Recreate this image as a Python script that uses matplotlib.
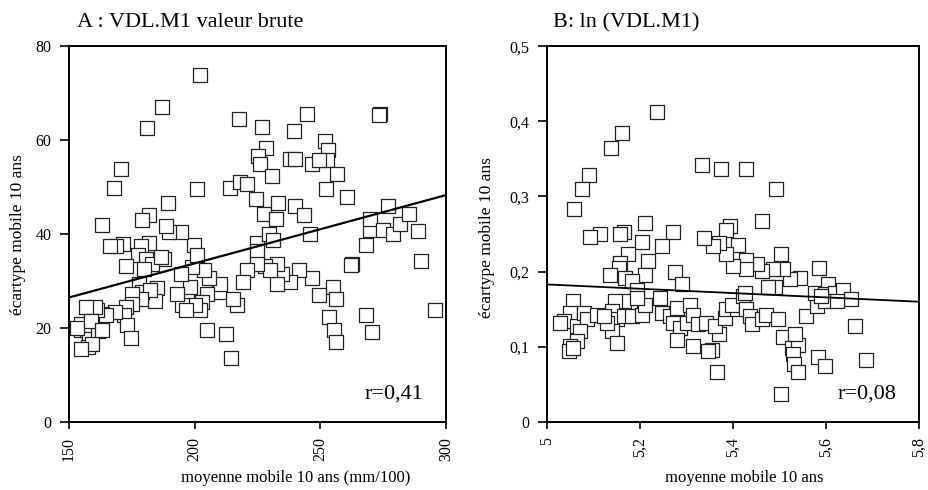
import numpy as np
import matplotlib.pyplot as plt
from matplotlib.ticker import FuncFormatter

plt.rcParams["font.family"] = ["Liberation Serif", "DejaVu Serif"]

# panel A: raw values (moyenne mobile vs ecart-type mobile, 10 ans)
a_x = [202, 187, 181, 217.7, 226.7, 244.7, 273.8, 273.2, 239.4, 170.8, 167.9, 201.1,
       189.5, 163.1, 228.4, 225.3, 226.1, 230.6, 238.0, 240.0, 251.9, 253.0, 252.6,
       246.6, 249.3, 256.6, 252.3, 260.6, 214.2, 218.2, 220.8, 224.5, 227.4, 233.1,
       232.4, 240.1, 243.6, 246.0, 224.8, 229.4, 231.2, 224.8, 268.1, 269.8, 269.8,
       277.1, 275.0, 279.1, 281.5, 285.3, 289.0, 290.0, 295.6, 262.5, 262.2, 268.1,
       270.5, 253.3, 255.0, 256.3, 255.3, 256.3, 249.3, 246.6, 241.4, 238.0, 234.7,
       232.6, 232.6, 228.1, 230.1, 224.8, 220.8, 219.2, 216.9, 215.1, 209.6, 210.2,
       205.6, 203.6, 205.0, 203.0, 202.3, 205.0, 212.4, 214.6, 197.0, 198.3, 199.0,
       200.3, 195.0, 196.4, 193.0, 194.4, 199.6, 201.0, 194.4, 189.9, 188.6, 187.7,
       185.1, 184.4, 181.8, 179.2, 181.8, 178.5, 177.5, 180.5, 183.1, 186.4, 179.8,
       177.9, 179.2, 182.4, 178.5, 175.2, 175.2, 172.5, 171.8, 173.2, 174.5, 168.3,
       172.5, 171.4, 168.5, 166.5, 163.2, 164.8, 161.3, 160.2, 156.6, 154.6, 154.9,
       157.0, 157.9, 157.5, 161.7, 159.0, 154.6, 153.0, 158.6, 163.2]
a_y = [73.8, 67.0, 62.6, 64.6, 62.8, 65.5, 65.6, 65.3, 61.9, 53.9, 49.8, 49.5,
       46.7, 41.9, 58.3, 56.7, 55.0, 52.3, 55.9, 55.9, 59.9, 58.0, 55.7,
       55.0, 55.8, 52.8, 49.6, 47.9, 49.9, 51.1, 50.7, 47.5, 44.3, 46.7,
       43.3, 46.0, 44.0, 40.1, 38.1, 40.1, 38.8, 36.5, 37.7, 40.8, 43.3,
       46.0, 40.8, 40.1, 42.2, 44.3, 40.6, 34.2, 23.9, 33.7, 33.4, 22.7,
       19.1, 22.3, 28.7, 26.2, 19.5, 17.1, 27.0, 30.7, 32.3, 29.8, 31.6,
       29.4, 33.7, 33.3, 32.3, 33.7, 32.3, 29.8, 24.8, 26.1, 27.7, 29.4,
       30.7, 32.4, 27.2, 25.5, 23.8, 19.6, 18.8, 13.7, 25.9, 28.7, 33.0,
       24.8, 24.8, 23.8, 27.3, 31.6, 37.6, 35.5, 40.4, 40.4, 41.8, 34.8,
       28.6, 25.7, 44.0, 42.9, 38.1, 37.4, 35.5, 34.8, 33.7, 35.1, 32.6,
       29.4, 27.7, 28.0, 26.2, 27.3, 25.2, 24.5, 22.7, 20.6, 17.9, 23.4,
       33.3, 37.9, 37.4, 37.4, 23.0, 22.7, 23.8, 24.5, 24.5, 20.9, 19.5,
       19.5, 17.7, 16.0, 19.3, 16.7, 15.6, 20.1, 21.6, 19.5]
a_fit_x = [150, 300]
a_fit_y = [26.5, 48.3]

# panel B: ln values
b_x = [5.236, 5.162, 5.138, 5.091, 5.076, 5.059, 5.334, 5.374, 5.429, 5.492, 5.462,
       5.211, 5.270, 5.113, 5.093, 5.165, 5.158, 5.247, 5.204, 5.218, 5.175, 5.158,
       5.154, 5.136, 5.211, 5.275, 5.168, 5.182, 5.193, 5.290, 5.179, 5.165, 5.147,
       5.140, 5.150, 5.140, 5.150, 5.165, 5.182, 5.204, 5.211, 5.193, 5.243, 5.247,
       5.265, 5.279, 5.272, 5.286, 5.279, 5.315, 5.308, 5.301, 5.315, 5.325, 5.343,
       5.354, 5.347, 5.365, 5.369, 5.361, 5.383, 5.386, 5.408, 5.397, 5.421, 5.426,
       5.429, 5.436, 5.440, 5.462, 5.471, 5.497, 5.507, 5.526, 5.540, 5.530, 5.532,
       5.540, 5.533, 5.582, 5.598, 5.686, 5.662, 5.504, 5.558, 5.580, 5.577, 5.586,
       5.605, 5.598, 5.619, 5.637, 5.653, 5.598, 5.590, 5.623, 5.544, 5.522, 5.504,
       5.508, 5.487, 5.490, 5.476, 5.462, 5.451, 5.429, 5.429, 5.411, 5.401, 5.386,
       5.394, 5.386, 5.371, 5.358, 5.338, 5.057, 5.050, 5.036, 5.029, 5.064, 5.079,
       5.086, 5.107, 5.072, 5.064, 5.050, 5.047, 5.057, 5.129, 5.122]
b_y = [0.412, 0.385, 0.364, 0.328, 0.310, 0.283, 0.342, 0.337, 0.337, 0.310, 0.267,
       0.265, 0.253, 0.250, 0.246, 0.253, 0.250, 0.234, 0.240, 0.214, 0.223, 0.212,
       0.205, 0.196, 0.196, 0.199, 0.191, 0.188, 0.176, 0.183, 0.152, 0.161, 0.161,
       0.148, 0.137, 0.121, 0.105, 0.141, 0.141, 0.143, 0.156, 0.165, 0.165, 0.145,
       0.141, 0.152, 0.132, 0.125, 0.109, 0.101, 0.156, 0.132, 0.143, 0.130, 0.132,
       0.096, 0.094, 0.066, 0.117, 0.128, 0.139, 0.150, 0.150, 0.156, 0.168, 0.172,
       0.150, 0.141, 0.130, 0.137, 0.143, 0.137, 0.113, 0.099, 0.103, 0.090, 0.077,
       0.066, 0.117, 0.086, 0.074, 0.083, 0.128, 0.037, 0.141, 0.154, 0.172, 0.205,
       0.183, 0.170, 0.172, 0.176, 0.163, 0.161, 0.168, 0.161, 0.192, 0.190, 0.223,
       0.203, 0.203, 0.179, 0.179, 0.201, 0.210, 0.216, 0.203, 0.236, 0.207, 0.223,
       0.261, 0.256, 0.238, 0.234, 0.245, 0.161, 0.145, 0.134, 0.132, 0.128, 0.145,
       0.137, 0.143, 0.121, 0.108, 0.101, 0.094, 0.099, 0.132, 0.141]
b_fit_x = [5.0, 5.8]
b_fit_y = [0.183, 0.160]


def comma(v, pos):
    s = f"{v:g}"
    return s.replace(".", ",")


fig = plt.figure(figsize=(9.29, 4.9), dpi=100)
axA = fig.add_axes([0.0743, 0.1388, 0.4058, 0.767])
axB = fig.add_axes([0.5888, 0.1388, 0.4004, 0.767])

panels = [
    (axA, a_x, a_y, a_fit_x, a_fit_y, (150, 300), (0, 80),
     [150, 200, 250, 300], [0, 20, 40, 60, 80],
     "A : VDL.M1 valeur brute", "moyenne mobile 10 ans (mm/100)", "r=0,41", 0.60, 1.6),
    (axB, b_x, b_y, b_fit_x, b_fit_y, (5.0, 5.8), (0, 0.5),
     [5.0, 5.2, 5.4, 5.6, 5.8], [0, 0.1, 0.2, 0.3, 0.4, 0.5],
     "B: ln (VDL.M1)", "moyenne mobile 10 ans", "r=0,08", 0.53, 1.3),
]

for (ax, xs, ys, fx, fy, xlim, ylim, xt, yt, title, xlabel, rtxt, xl_pos, lw) in panels:
    ax.scatter(xs, ys, marker="s", s=88, facecolor="white", edgecolor="#222222",
               linewidths=0.9, zorder=2)
    ax.plot(fx, fy, color="black", lw=lw, zorder=3)
    ax.set_xlim(*xlim)
    ax.set_ylim(*ylim)
    ax.set_xticks(xt)
    ax.set_yticks(yt)
    ax.xaxis.set_major_formatter(FuncFormatter(comma))
    ax.yaxis.set_major_formatter(FuncFormatter(comma))
    ax.tick_params(axis="x", direction="out", length=5, width=1.2, pad=6, labelsize=11.5)
    ax.tick_params(axis="y", direction="out", length=6.5, width=1.2, pad=6, labelsize=11.5)
    for lab in ax.get_xticklabels():
        lab.set_rotation(90)
    for sp in ax.spines.values():
        sp.set_linewidth(1.4)
    ax.set_xlabel(xlabel, fontsize=12)
    ax.xaxis.set_label_coords(xl_pos, -0.127)
    ax.set_ylabel("écartype mobile 10 ans", fontsize=12.5, va="center")
    ax.text(0.02, 1.05, title, transform=ax.transAxes, fontsize=16,
            ha="left", va="baseline")
    ax.text(0.94, 0.075, rtxt, transform=ax.transAxes, fontsize=16,
            ha="right", va="center")

axA.yaxis.set_label_coords(-0.135, 0.5)
axB.yaxis.set_label_coords(-0.16, 0.49)
axB.texts[0].set_x(0.015)

fig.savefig("out.png", dpi=100)
